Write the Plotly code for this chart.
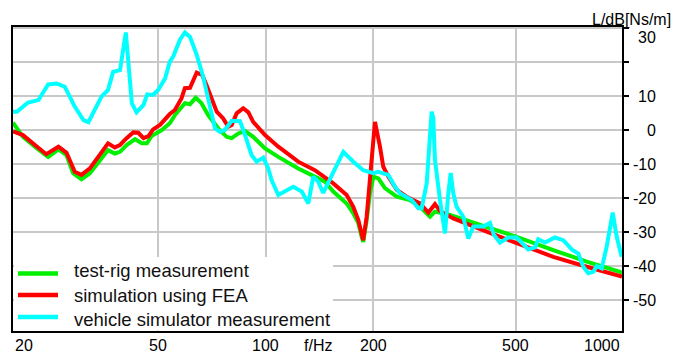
import math
import plotly.graph_objects as go

# ---- data (frequency in Hz, level in dB) ----
rig_f = [19.7, 21.0, 23.0, 24.7, 26.4, 27.8, 29.0, 30.6, 32.3, 34.4, 36.3, 37.9, 39.2, 40.9,
         43.2, 45.1, 46.6, 48.0, 51.3, 54.0, 55.8, 59.5, 61.5, 63.8, 66.2, 69.1, 73.7, 77.8,
         80.4, 83.9, 87.6, 92.3, 99.6, 108.5, 123.3, 137.2, 146.4, 154.5, 168.4, 175.7, 181.5,
         185.4, 187.3, 191.5, 195.6, 200.0, 206.4, 215.4, 232.3, 253.0, 269.8, 287.7, 297.1,
         327.2, 414.3, 502.4, 635.7, 788.1, 976.5, 989.0]
rig_db = [2.2, -2.0, -5.4, -7.9, -5.7, -7.4, -12.7, -14.5, -12.7, -8.8, -5.9, -6.9, -6.4, -4.4,
          -2.7, -3.9, -3.9, -1.8, 0.0, 2.0, 4.4, 7.9, 7.6, 9.5, 7.9, 4.4, 0.5, -2.0,
          -2.4, -1.0, -0.3, -2.0, -5.4, -7.9, -11.3, -13.7, -15.2, -18.1, -21.6, -24.5, -27.4,
          -31.4, -32.9, -26.5, -18.6, -13.7, -14.2, -17.1, -19.6, -20.6, -22.6, -25.5, -24.0,
          -25.0, -28.4, -31.4, -35.3, -38.7, -41.7, -42.1]

fea_f = [19.7, 21.0, 23.0, 24.4, 26.4, 27.8, 29.3, 30.6, 32.3, 34.4, 36.3, 37.9, 39.2, 40.9,
         42.7, 44.1, 45.6, 47.1, 48.5, 50.7, 54.0, 55.8, 58.2, 59.5, 61.5, 64.2, 66.5, 68.4,
         70.7, 73.0, 76.1, 78.6, 80.4, 83.0, 86.6, 89.5, 92.3, 99.6, 108.5, 123.3, 137.2,
         146.4, 154.5, 168.4, 175.7, 181.5, 185.4, 187.3, 191.5, 195.6, 200.0, 202.0, 208.6,
         213.1, 220.1, 232.3, 247.6, 269.8, 284.6, 297.1, 306.8, 334.2, 414.3, 502.4, 635.7,
         788.1, 989.0]
fea_db = [-0.4, -1.5, -4.9, -7.1, -4.9, -6.7, -12.3, -13.2, -11.3, -7.4, -3.9, -5.1, -4.4, -2.4,
          -0.7, -0.8, -2.4, -1.8, 0.2, 1.5, 4.7, 5.9, 9.3, 12.3, 12.4, 16.9, 16.2, 13.2,
          8.8, 5.4, 3.4, 1.0, 1.5, 4.9, 6.4, 5.2, 2.4, -1.5, -4.9, -9.3, -11.8,
          -14.0, -15.7, -19.1, -22.6, -26.5, -30.4, -32.4, -25.5, -14.7, -5.9, 2.4, -4.9,
          -10.8, -13.7, -17.6, -19.6, -21.6, -24.3, -21.8, -23.8, -26.0, -29.9, -33.3, -37.3,
          -40.2, -43.1]

veh_f = [19.7, 20.2, 21.7, 23.2, 24.7, 26.1, 27.5, 29.3, 31.0, 32.0, 34.8, 36.3, 37.5, 39.2,
         40.7, 42.3, 43.6, 45.6, 46.7, 48.5, 50.1, 52.4, 54.0, 55.2, 57.6, 59.5, 61.5, 64.2,
         66.9, 69.9, 72.2, 74.5, 76.9, 80.4, 84.8, 87.6, 91.4, 94.4, 98.5, 101.7, 103.9,
         108.5, 119.4, 126.1, 131.6, 135.8, 140.2, 144.8, 154.5, 164.8, 175.7, 187.3, 200.0,
         206.4, 220.1, 229.8, 237.2, 247.6, 255.8, 266.9, 272.8, 281.7, 287.7, 290.9, 293.9,
         297.1, 306.8, 316.8, 323.7, 328.7, 334.2, 341.6, 356.4, 368.1, 380.1, 405.3, 423.1,
         434.1, 451.2, 476.0, 502.4, 541.4, 565.1, 577.3, 602.7, 642.6, 678.0, 715.7, 746.8,
         771.1, 796.4, 822.4, 840.5, 867.9, 896.3, 931.6, 955.9, 987.2]
veh_db = [5.4, 5.4, 8.1, 8.8, 13.4, 13.7, 12.7, 6.9, 2.9, 2.3, 9.8, 11.8, 17.1, 17.6,
          28.7, 7.9, 5.2, 7.4, 10.5, 10.3, 11.8, 15.2, 20.1, 21.6, 26.5, 28.7, 27.4, 22.1,
          15.7, 6.9, 0.5, -0.5, 0.0, 2.7, 2.6, -1.5, -7.4, -9.3, -8.1, -11.3, -14.7,
          -19.1, -16.7, -18.1, -21.6, -13.7, -15.2, -18.5, -12.7, -6.4, -9.3, -11.8, -12.7,
          -12.3, -13.2, -16.7, -18.6, -19.6, -20.6, -23.0, -23.0, -15.7, -2.9, 5.4, 3.5,
          -8.8, -20.6, -30.4, -18.6, -12.6, -18.6, -22.6, -25.5, -31.9, -28.4, -28.4, -27.3,
          -30.9, -33.1, -31.6, -31.6, -35.1, -34.5, -32.1, -33.1, -31.6, -32.4, -35.1, -36.3,
          -40.2, -42.1, -41.7, -40.0, -40.7, -34.3, -24.3, -31.4, -37.3]

series_names = ["test-rig measurement", "simulation using FEA", "vehicle simulator measurement"]
series_colors = ["#00f000", "#ff0000", "#00ffff"]

x_ticks = [50, 100, 200, 500]
x_labels = ["50", "100", "200", "500"]
y_ticks = [30, 20, 10, 0, -10, -20, -30, -40, -50]
y_labels = ["30", "", "10", "0", "-10", "-20", "-30", "-40", "-50"]

FONT = "Arial, 'Liberation Sans', sans-serif"

fig = go.Figure()
for fx, fy, nm, col in zip([rig_f, fea_f, veh_f], [rig_db, fea_db, veh_db],
                           series_names, series_colors):
    fig.add_trace(go.Scatter(x=fx, y=fy, mode="lines", name=nm,
                             line=dict(color=col, width=4), showlegend=False))

fig.update_layout(
    width=675, height=354,
    margin=dict(l=13, r=53, t=27, b=23, autoexpand=False),
    paper_bgcolor="white", plot_bgcolor="white",
    font=dict(family=FONT, size=16, color="black"),
    showlegend=False,
)
fig.update_xaxes(type="log", range=[1.2945, 2.9952], tickvals=x_ticks,
                 ticks="", showticklabels=False, automargin=False,
                 showgrid=True, gridcolor="#c8c8c8", gridwidth=1.5,
                 showline=True, linecolor="black", linewidth=2, mirror=True,
                 zeroline=False)
fig.update_yaxes(range=[-59.1, 30.3], side="right", tickvals=y_ticks,
                 ticks="outside", ticklen=5, tickcolor="black", tickwidth=1.5,
                 showticklabels=False, automargin=False,
                 showgrid=True, gridcolor="#c8c8c8", gridwidth=1.5,
                 showline=True, linecolor="black", linewidth=2, mirror=True,
                 zeroline=False)

# y tick labels, right-aligned
for v, t in zip(y_ticks, y_labels):
    if t:
        fig.add_annotation(x=1.0591, xref="paper", y=v, yref="y", text=t, showarrow=False,
                           xanchor="right", yanchor="middle", font=dict(size=16),
                           yshift=-9 if v == 30 else 0)
# x tick labels
for v, t in zip(x_ticks, x_labels):
    fig.add_annotation(x=math.log10(v), xref="x", y=0, yref="paper", yshift=-14, text=t,
                       showarrow=False, xanchor="center", yanchor="middle", font=dict(size=16))
fig.add_annotation(x=0.0, xref="paper", y=0, yref="paper", yshift=-14, text="20",
                   showarrow=False, xanchor="left", yanchor="middle", font=dict(size=16))
fig.add_annotation(x=1.0, xref="paper", y=0, yref="paper", yshift=-14, text="1000",
                   showarrow=False, xanchor="right", yanchor="middle", font=dict(size=16))
fig.add_annotation(x=0.5008, xref="paper", y=0, yref="paper", yshift=-14, text="f/Hz",
                   showarrow=False, xanchor="center", yanchor="middle", font=dict(size=16))
fig.add_annotation(x=1.0837, xref="paper", y=1.026, yref="paper", text="L/dB[Ns/m]",
                   showarrow=False, xanchor="right", yanchor="middle", font=dict(size=16))

# legend box (white panel, line samples, labels)
fig.add_shape(type="rect", xref="paper", yref="paper", x0=0.0016, x1=0.5255, y0=0.002,
              y1=0.2434, fillcolor="white", line=dict(width=0), layer="above")
line_y = [0.1891, 0.1184, 0.0461]
text_y = [0.1974, 0.1184, 0.0362]
for ly, ty, nm, col in zip(line_y, text_y, series_names, series_colors):
    fig.add_shape(type="line", xref="paper", yref="paper", x0=0.0082, x1=0.0739, y0=ly, y1=ly,
                  line=dict(color=col, width=4.5), layer="above")
    fig.add_annotation(x=0.0969, xref="paper", y=ty, yref="paper", text=nm, showarrow=False,
                       xanchor="left", yanchor="middle",
                       font=dict(size=18.5, color="#111111"))

fig.write_html("out.html", config={"displayModeBar": False},
               post_script="document.body.style.margin='0px';")
